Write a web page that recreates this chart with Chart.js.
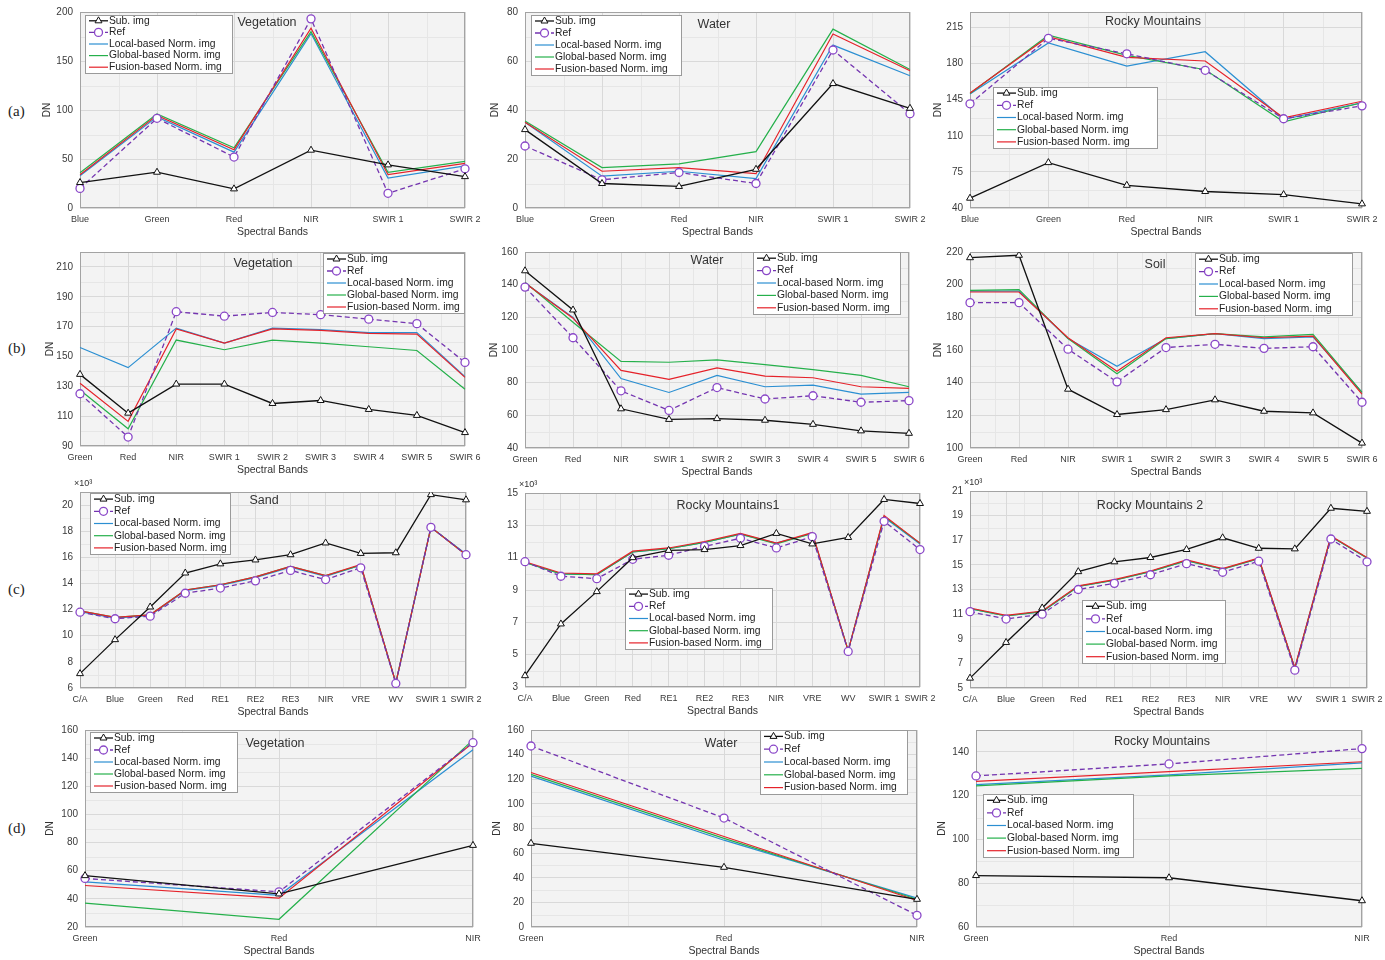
<!DOCTYPE html>
<html>
<head>
<meta charset="utf-8">
<script src="https://cdn.jsdelivr.net/npm/chart.js@4.4.1/dist/chart.umd.min.js"></script>
<style>
  html, body { margin: 0; padding: 0; background: #fff; overflow: hidden; }
  body { position: relative; width: 1385px; height: 960px; }
  canvas { position: absolute; }
  .row { position: absolute; left: 8px; font: 15px "Liberation Serif", "Times New Roman", serif; color: #222; }
</style>
</head>
<body>
<div class="row" style="top:103px">(a)</div>
<div class="row" style="top:340px">(b)</div>
<div class="row" style="top:581px">(c)</div>
<div class="row" style="top:820px">(d)</div>
<script>
// band names
var bands6 = ['Blue', 'Green', 'Red', 'NIR', 'SWIR 1', 'SWIR 2'];
var bands9 = ['Green', 'Red', 'NIR', 'SWIR 1', 'SWIR 2', 'SWIR 3', 'SWIR 4', 'SWIR 5', 'SWIR 6'];
var bands12 = ['C/A', 'Blue', 'Green', 'Red', 'RE1', 'RE2', 'RE3', 'NIR', 'VRE', 'WV', 'SWIR 1', 'SWIR 2'];
var bands3 = ['Green', 'Red', 'NIR'];

// (a) Vegetation
var a1Sub    = [26, 36.5, 19.5, 59, 44, 32];
var a1Ref    = [20, 91.5, 52, 193, 15, 40];
var a1Local  = [33, 93, 57, 178, 30.5, 43];
var a1Global = [36, 96, 61.5, 180, 36.5, 47.5];
var a1Fusion = [34, 94.5, 59.5, 183.5, 34, 45.5];
var a1Ticks  = [0, 50, 100, 150, 200];
// (a) Water
var a2Sub    = [32, 10, 8.8, 15.8, 50.8, 40.7];
var a2Ref    = [25.3, 11.5, 14.5, 10, 64.5, 38.5];
var a2Local  = [35, 13, 15, 12, 66.5, 54];
var a2Global = [35.5, 16.5, 18, 23, 73, 56.5];
var a2Fusion = [35, 15, 16.5, 14, 71, 56];
var a2Ticks  = [0, 20, 40, 60, 80];
// (a) Rocky Mountains
var a3Sub    = [49.5, 84, 62, 56, 53, 44];
var a3Ref    = [141, 204.5, 189.5, 173.5, 126.5, 139];
var a3Local  = [150.5, 200, 177.5, 191.5, 126, 142];
var a3Global = [151, 207.5, 188, 174, 123.5, 142];
var a3Fusion = [151.5, 206, 186, 182.5, 127.5, 143.5];
var a3Ticks  = [40, 75, 110, 145, 180, 215];

// (b) Vegetation
var b1Sub    = [138, 112, 131.5, 131.5, 118.5, 120.5, 114.5, 110.5, 99];
var b1Ref    = [125, 96, 180, 177, 179.5, 178, 175, 172, 146];
var b1Local  = [156, 142.5, 169, 159, 169, 168, 166, 166, 136.5];
var b1Global = [127.5, 101.5, 161, 154.5, 161, 159, 156.5, 154, 128];
var b1Fusion = [132, 106.5, 168.5, 159, 168.5, 167.5, 165.5, 165, 136];
var b1Ticks  = [90, 110, 130, 150, 170, 190, 210];
// (b) Water
var b2Sub    = [148.5, 124.5, 64, 57.5, 58, 57, 54.5, 50.5, 49];
var b2Ref    = [138.5, 107.5, 75, 63, 77, 70, 72, 68, 69];
var b2Local  = [141, 120, 82.5, 74, 84.5, 77.5, 78.5, 73, 74];
var b2Global = [141.5, 117, 93, 92.5, 94, 91, 88, 84.5, 77.5];
var b2Fusion = [141, 119.5, 87.5, 82, 89, 84, 83, 77.5, 76.5];
var b2Ticks  = [40, 60, 80, 100, 120, 140, 160];
// (b) Soil
var b3Sub    = [216.5, 218, 136, 120.5, 123.5, 129.5, 122.5, 121.5, 103];
var b3Ref    = [189, 189, 160.5, 140.5, 161.5, 163.5, 161, 162, 128];
var b3Local  = [196, 196, 167, 150, 167, 170, 167, 168, 134];
var b3Global = [196.5, 197, 167, 145.5, 167, 170, 168, 169.5, 134];
var b3Fusion = [195.5, 195.5, 167.5, 147, 167.5, 170, 167.5, 168.5, 133];
var b3Ticks  = [100, 120, 140, 160, 180, 200, 220];

// (c) Sand  (x10^3)
var c1Sub    = [7.1, 9.7, 12.2, 14.8, 15.5, 15.8, 16.2, 17.1, 16.3, 16.35, 20.8, 20.4];
var c1Ref    = [11.8, 11.3, 11.5, 13.25, 13.65, 14.2, 15.0, 14.3, 15.2, 6.35, 18.3, 16.2];
var c1Local  = [11.85, 11.35, 11.55, 13.45, 13.85, 14.45, 15.25, 14.55, 15.4, 6.4, 18.3, 16.25];
var c1Global = [11.9, 11.4, 11.6, 13.5, 13.9, 14.5, 15.3, 14.6, 15.4, 6.4, 18.3, 16.2];
var c1Fusion = [11.9, 11.4, 11.6, 13.5, 13.9, 14.5, 15.3, 14.6, 15.45, 6.4, 18.3, 16.2];
var c1Ticks  = [6, 8, 10, 12, 14, 16, 18, 20];
// (c) Rocky Mountains1
var c2Sub    = [3.7, 6.9, 8.9, 11.0, 11.45, 11.5, 11.75, 12.5, 11.85, 12.25, 14.6, 14.35];
var c2Ref    = [10.75, 9.85, 9.7, 10.9, 11.15, 11.7, 12.2, 11.6, 12.3, 5.2, 13.25, 11.5];
var c2Local  = [10.7, 10.0, 9.95, 11.35, 11.55, 11.95, 12.45, 11.9, 12.5, 5.25, 13.5, 11.85];
var c2Global = [10.7, 10.0, 9.95, 11.35, 11.55, 11.95, 12.45, 11.85, 12.5, 5.25, 13.55, 11.9];
var c2Fusion = [10.75, 10.05, 10.0, 11.4, 11.6, 12.0, 12.5, 11.9, 12.55, 5.25, 13.6, 11.9];
var c2Ticks  = [3, 5, 7, 9, 11, 13, 15];
// (c) Rocky Mountains 2
var c3Sub    = [5.8, 8.7, 11.5, 14.45, 15.25, 15.6, 16.25, 17.2, 16.35, 16.3, 19.6, 19.35];
var c3Ref    = [11.2, 10.6, 11.0, 13.0, 13.5, 14.2, 15.1, 14.4, 15.3, 6.45, 17.1, 15.25];
var c3Local  = [11.45, 10.85, 11.2, 13.25, 13.75, 14.45, 15.35, 14.65, 15.5, 6.6, 17.3, 15.55];
var c3Global = [11.45, 10.85, 11.2, 13.25, 13.75, 14.45, 15.35, 14.65, 15.5, 6.6, 17.3, 15.55];
var c3Fusion = [11.5, 10.9, 11.25, 13.3, 13.8, 14.5, 15.4, 14.7, 15.55, 6.65, 17.35, 15.6];
var c3Ticks  = [5, 7, 9, 11, 13, 15, 17, 19, 21];

// (d) Vegetation
var d1Sub    = [56.5, 43.5, 78];
var d1Ref    = [54.5, 45, 151];
var d1Local  = [52, 42.5, 146];
var d1Global = [37, 25.5, 153];
var d1Fusion = [49.5, 40.5, 151];
var d1Ticks  = [20, 40, 60, 80, 100, 120, 140, 160];
// (d) Water
var d2Sub    = [68, 48.5, 22.5];
var d2Ref    = [147, 88.5, 9.5];
var d2Local  = [122.5, 70.5, 23.5];
var d2Global = [124, 72, 22.5];
var d2Fusion = [125.5, 73.5, 21.5];
var d2Ticks  = [0, 20, 40, 60, 80, 100, 120, 140, 160];
// (d) Rocky Mountains
var d3Sub    = [83.5, 82.5, 72];
var d3Ref    = [129, 134.5, 141.5];
var d3Local  = [125, 129.5, 135];
var d3Global = [124.5, 129, 132.5];
var d3Fusion = [126.5, 131, 135.5];
var d3Ticks  = [60, 80, 100, 120, 140];

var seriesNames = ['Sub. img', 'Ref', 'Local-based Norm. img', 'Global-based Norm. img', 'Fusion-based Norm. img'];

/////////////////////////////////////////////////////////

var FONT = '"Liberation Sans", Arial, sans-serif';
var YW = 42, PT = 14, PR = 25, XH = 32;

// rect = plot area [left, top, right, bottom] on the page
var panels = [
  { bands: bands6, s: [a1Sub, a1Ref, a1Local, a1Global, a1Fusion], ticks: a1Ticks, min: 0, max: 200, title: 'Vegetation',
    rect: [80, 12, 465, 208], legend: [85, 15, 147, 58], tpos: [267, 23], dnX: 47 },
  { bands: bands6, s: [a2Sub, a2Ref, a2Local, a2Global, a2Fusion], ticks: a2Ticks, min: 0, max: 80, title: 'Water',
    rect: [525, 12, 910, 208], legend: [531, 15, 150, 60], tpos: [714, 25], dnX: 495 },
  { bands: bands6, s: [a3Sub, a3Ref, a3Local, a3Global, a3Fusion], ticks: a3Ticks, min: 40, max: 230, title: 'Rocky Mountains',
    rect: [970, 12, 1362, 208], legend: [993, 87, 164, 61], tpos: [1153, 22], dnX: 938 },

  { bands: bands9, s: [b1Sub, b1Ref, b1Local, b1Global, b1Fusion], ticks: b1Ticks, min: 90, max: 220, title: 'Vegetation',
    rect: [80, 252, 465, 446], legend: [323, 253, 141, 60], tpos: [263, 264], dnX: 50 },
  { bands: bands9, s: [b2Sub, b2Ref, b2Local, b2Global, b2Fusion], ticks: b2Ticks, min: 40, max: 160, title: 'Water',
    rect: [525, 252, 909, 448], legend: [753, 252, 147, 62], tpos: [707, 261], dnX: 494 },
  { bands: bands9, s: [b3Sub, b3Ref, b3Local, b3Global, b3Fusion], ticks: b3Ticks, min: 100, max: 220, title: 'Soil',
    rect: [970, 252, 1362, 448], legend: [1195, 253, 157, 62], tpos: [1155, 265], dnX: 938 },

  { bands: bands12, s: [c1Sub, c1Ref, c1Local, c1Global, c1Fusion], ticks: c1Ticks, min: 6, max: 21, title: 'Sand',
    rect: [80, 492, 466, 688], legend: [90, 493, 140, 61], tpos: [264, 501], x10: true },
  { bands: bands12, s: [c2Sub, c2Ref, c2Local, c2Global, c2Fusion], ticks: c2Ticks, min: 3, max: 15, title: 'Rocky Mountains1',
    rect: [525, 493, 920, 687], legend: [625, 588, 147, 61], tpos: [728, 506], x10: true },
  { bands: bands12, s: [c3Sub, c3Ref, c3Local, c3Global, c3Fusion], ticks: c3Ticks, min: 5, max: 21, title: 'Rocky Mountains 2',
    rect: [970, 491, 1367, 688], legend: [1082, 600, 143, 63], tpos: [1150, 506], x10: true },

  { bands: bands3, s: [d1Sub, d1Ref, d1Local, d1Global, d1Fusion], ticks: d1Ticks, min: 20, max: 160, title: 'Vegetation',
    rect: [85, 730, 473, 927], legend: [90, 732, 147, 60], tpos: [275, 744], dnX: 50 },
  { bands: bands3, s: [d2Sub, d2Ref, d2Local, d2Global, d2Fusion], ticks: d2Ticks, min: 0, max: 160, title: 'Water',
    rect: [531, 730, 917, 927], legend: [760, 730, 147, 64], tpos: [721, 744], dnX: 497 },
  { bands: bands3, s: [d3Sub, d3Ref, d3Local, d3Global, d3Fusion], ticks: d3Ticks, min: 60, max: 150, title: 'Rocky Mountains',
    rect: [976, 730, 1362, 927], legend: [983, 794, 150, 63], tpos: [1162, 742], dnX: 942 }
];

// plot background, minor grid and frame
var plotFrame = {
  id: 'plotFrame',
  beforeDraw: function(chart) {
    var ctx = chart.ctx, a = chart.chartArea, x = chart.scales.x, y = chart.scales.y;
    ctx.save();
    ctx.fillStyle = '#f3f3f3';
    ctx.fillRect(a.left, a.top, a.right - a.left, a.bottom - a.top);
    ctx.strokeStyle = '#e6e6e6';
    ctx.lineWidth = 1;
    ctx.beginPath();
    var n = x.ticks.length;
    for (var i = 0; i < n - 1; i++) {
      var px = Math.round(x.getPixelForDecimal((i + 0.5) / (n - 1))) + 0.5;
      ctx.moveTo(px, a.top); ctx.lineTo(px, a.bottom);
    }
    var tv = y.ticks.map(function(t) { return t.value; });
    var step = tv[1] - tv[0];
    for (var j = 0; j < tv.length; j++) {
      var mid = tv[j] + step / 2;
      if (mid < y.max) {
        var py = Math.round(y.getPixelForValue(mid)) + 0.5;
        ctx.moveTo(a.left, py); ctx.lineTo(a.right, py);
      }
    }
    ctx.stroke();
    ctx.restore();
  },
  beforeDatasetsDraw: function(chart) {
    var ctx = chart.ctx, a = chart.chartArea;
    ctx.save();
    ctx.strokeStyle = '#a3a3a3';
    ctx.lineWidth = 1;
    ctx.strokeRect(Math.round(a.left) + 0.5, Math.round(a.top) + 0.5, Math.round(a.right - a.left) - 1, Math.round(a.bottom - a.top) - 1);
    ctx.restore();
  }
};

// legend box inside the plot, panel title, x10^3 note
var boxLegend = {
  id: 'boxLegend',
  afterDatasetsDraw: function(chart, args, opts) {
    var ctx = chart.ctx;
    ctx.save();
    if (opts.title) {
      ctx.font = '12.5px ' + FONT;
      ctx.fillStyle = '#333';
      ctx.textAlign = 'center';
      ctx.textBaseline = 'middle';
      ctx.fillText(opts.title, opts.tpos[0], opts.tpos[1]);
    }
    if (opts.x10) {
      ctx.font = '9px ' + FONT;
      ctx.fillStyle = '#333';
      ctx.textAlign = 'left';
      ctx.textBaseline = 'middle';
      ctx.fillText('\u00d710\u00b3', chart.chartArea.left - 6, chart.chartArea.top - 8);
    }
    var b = opts.box;
    ctx.fillStyle = '#fff';
    ctx.fillRect(b[0], b[1], b[2], b[3]);
    ctx.strokeStyle = '#9a9a9a';
    ctx.lineWidth = 1;
    ctx.strokeRect(b[0] + 0.5, b[1] + 0.5, b[2], b[3]);
    var ds = chart.data.datasets;
    var rowH = b[3] / ds.length;
    ctx.font = '10.3px ' + FONT;
    ctx.textAlign = 'left';
    ctx.textBaseline = 'middle';
    ds.forEach(function(d, i) {
      var cy = b[1] + rowH * (i + 0.5);
      ctx.setLineDash(d.borderDash || []);
      ctx.strokeStyle = d.borderColor;
      ctx.lineWidth = d.borderWidth;
      ctx.beginPath();
      ctx.moveTo(b[0] + 4, cy); ctx.lineTo(b[0] + 23, cy);
      ctx.stroke();
      ctx.setLineDash([]);
      if (d.pointRadius > 0) {
        ctx.fillStyle = d.pointBackgroundColor;
        ctx.strokeStyle = d.pointBorderColor;
        ctx.lineWidth = d.pointBorderWidth;
        Chart.helpers.drawPoint(ctx, { pointStyle: d.pointStyle, radius: d.pointRadius, borderWidth: d.pointBorderWidth, rotation: 0 }, b[0] + 13.5, cy);
      }
      ctx.fillStyle = '#222';
      ctx.fillText(d.label, b[0] + 24, cy);
    });
    ctx.restore();
  }
};

function makeDatasets(s) {
  return [
    { label: seriesNames[0], data: s[0], borderColor: '#111', borderWidth: 1.3, order: 0,
      pointStyle: 'triangle', pointRadius: 4, pointBorderColor: '#111', pointBackgroundColor: '#fff', pointBorderWidth: 1 },
    { label: seriesNames[1], data: s[1], borderColor: '#7435b0', borderWidth: 1.3, borderDash: [5, 3], order: 1,
      pointStyle: 'circle', pointRadius: 4, pointBorderColor: '#8a47c8', pointBackgroundColor: '#fff', pointBorderWidth: 1.3 },
    { label: seriesNames[2], data: s[2], borderColor: '#2b8fd2', borderWidth: 1.2, order: 4, pointRadius: 0 },
    { label: seriesNames[3], data: s[3], borderColor: '#25b04b', borderWidth: 1.2, order: 3, pointRadius: 0 },
    { label: seriesNames[4], data: s[4], borderColor: '#e5222a', borderWidth: 1.2, order: 2, pointRadius: 0 }
  ];
}

panels.forEach(function(p) {
  var L = p.rect[0], T = p.rect[1], R = p.rect[2], B = p.rect[3];
  var cl = L - YW, ct = T - PT;
  var cw = R - L + YW + PR, ch = B - T + PT + XH;
  var canvas = document.createElement('canvas');
  canvas.width = cw; canvas.height = ch;
  canvas.style.left = cl + 'px'; canvas.style.top = ct + 'px';
  canvas.style.width = cw + 'px'; canvas.style.height = ch + 'px';
  document.body.appendChild(canvas);

  var dnPad = p.dnX ? p.dnX - cl - 6 : 0;

  new Chart(canvas, {
    type: 'line',
    data: { labels: p.bands, datasets: makeDatasets(p.s) },
    plugins: [plotFrame, boxLegend],
    options: {
      responsive: false,
      animation: false,
      devicePixelRatio: 1,
      layout: { padding: { top: PT, right: PR, left: 0, bottom: 0 } },
      elements: { line: { tension: 0, fill: false } },
      plugins: {
        legend: { display: false },
        tooltip: { enabled: false },
        boxLegend: {
          box: [p.legend[0] - cl, p.legend[1] - ct, p.legend[2], p.legend[3]],
          title: p.title, tpos: [p.tpos[0] - cl, p.tpos[1] - ct], x10: !!p.x10
        }
      },
      scales: {
        x: {
          offset: false,
          grid: { color: '#d9d9d9', drawTicks: false },
          border: { display: false },
          ticks: { autoSkip: false, maxRotation: 0, minRotation: 0, padding: 6, color: '#3a3a3a', font: { family: FONT, size: 9 } },
          title: { display: true, text: 'Spectral Bands', color: '#333', padding: { top: 0, bottom: 2 }, font: { family: FONT, size: 10.5 } },
          afterFit: function(s) { s.height = XH; }
        },
        y: {
          min: p.min, max: p.max,
          grid: { color: '#d9d9d9', drawTicks: false },
          border: { display: false },
          ticks: { padding: 7, color: '#3a3a3a', font: { family: FONT, size: 10 } },
          title: { display: !!p.dnX, text: 'DN', color: '#333', padding: { top: dnPad, bottom: 0 }, font: { family: FONT, size: 10 } },
          afterBuildTicks: function(s) { s.ticks = p.ticks.map(function(v) { return { value: v }; }); },
          afterFit: function(s) { s.width = YW; }
        }
      }
    }
  });
});
</script>
</body>
</html>
